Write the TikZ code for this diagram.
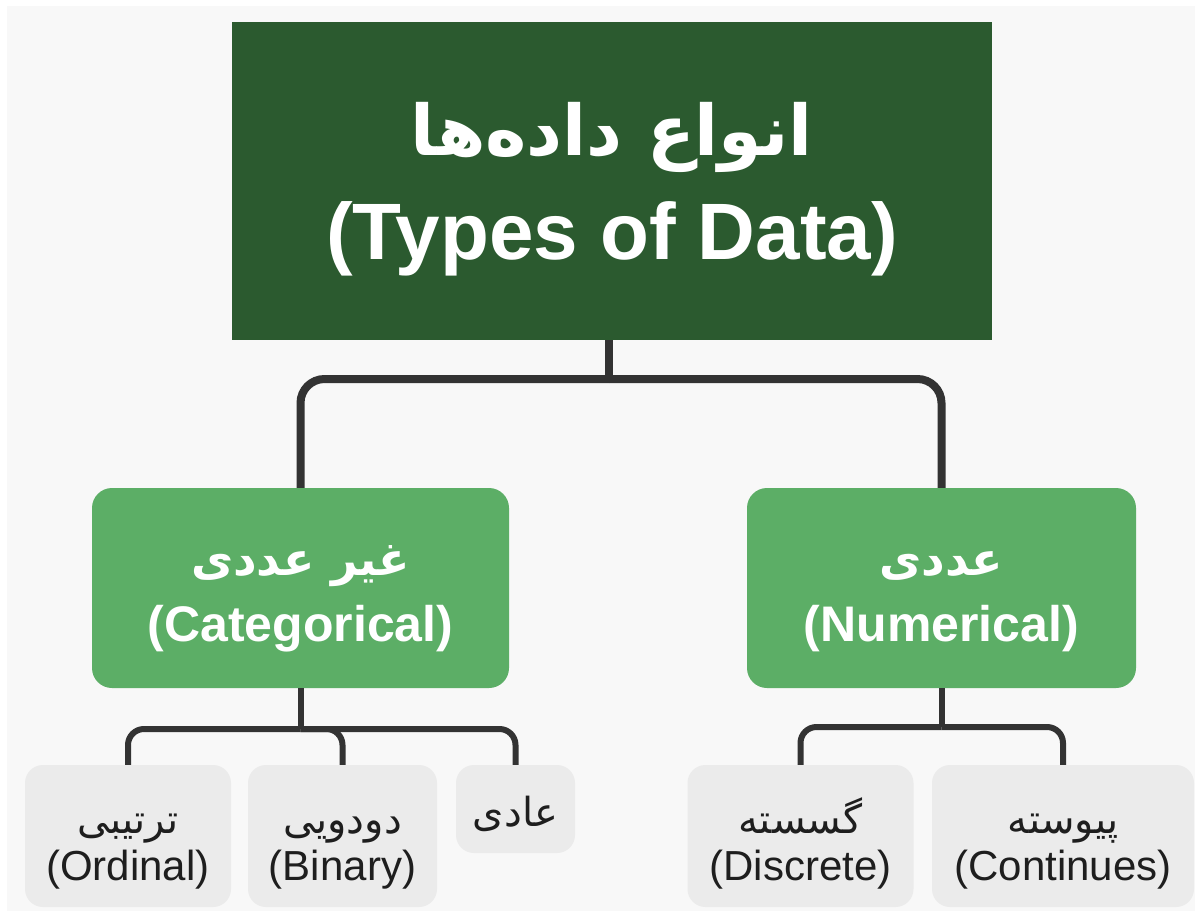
\documentclass[tikz,border=0pt]{standalone}
\usepackage{fontspec}
\setmainfont{Liberation Sans}
\newfontfamily\fa[Script=Arabic]{DejaVu Sans}
\TeXXeTstate=1
\definecolor{bgc}{HTML}{F8F8F8}
\definecolor{dkgreen}{HTML}{2B5A2F}
\definecolor{mdgreen}{HTML}{5CAE66}
\definecolor{leaf}{HTML}{EBEBEB}
\definecolor{linec}{HTML}{333333}
\definecolor{txt}{HTML}{1E1E1E}
\tikzset{
  topbox/.style={fill=dkgreen, minimum width=760pt, minimum height=318pt, inner sep=0pt},
  midbox/.style={fill=mdgreen, rounded corners=20pt, minimum height=200pt, inner sep=0pt},
  leafbox/.style={fill=leaf, rounded corners=18pt, inner sep=0pt},
  toptext/.style={inner sep=0pt, text=white, align=center, font=\bfseries\fontsize{80pt}{104pt}\selectfont},
  midtext/.style={inner sep=0pt, text=white, align=center, font=\bfseries\fontsize{50pt}{66pt}\selectfont},
  leaftext/.style={inner sep=0pt, text=txt, align=center, font=\fontsize{42pt}{47pt}\selectfont},
  bigconn/.style={draw=linec, line width=8pt, rounded corners=24pt},
  smallconn/.style={draw=linec, line width=6pt, rounded corners=16pt},
}
\newcommand{\fsz}[1]{\fontsize{#1}{#1}\selectfont\fa}
\newcommand{\mstrut}{\rule{0pt}{50pt}}
\newcommand{\lstrut}{\rule{0pt}{42pt}}
\begin{document}
\begin{tikzpicture}[x=1pt,y=-1pt]
\useasboundingbox (0,0) rectangle (1202,919);
\fill[white] (0,0) rectangle (1202,919);
\fill[bgc] (7,6) rectangle (1195,911);

% boxes
\node[topbox] (top) at (612,181) {};
\node[midbox, minimum width=417pt] (catg) at (300.5,588) {};
\node[midbox, minimum width=389pt] (num) at (941.5,588) {};
\node[leafbox, minimum width=206pt, minimum height=142pt] (ord) at (128,836) {};
\node[leafbox, minimum width=189pt, minimum height=142pt] (bin) at (342.5,836) {};
\node[leafbox, minimum width=119pt, minimum height=88pt] (reg) at (515.5,809) {};
\node[leafbox, minimum width=226pt, minimum height=142pt] (disc) at (800.5,836) {};
\node[leafbox, minimum width=262pt, minimum height=142pt] (cont) at (1063,836) {};

% texts
\node[toptext, yshift=-8pt] (topT) at (top.center) {%
  {\fsz{70pt}\beginR انواع داده^^^^200cها\endR}\\
  (Types of Data)};
\node[midtext, yshift=-1pt] (catgT) at (catg.center) {%
  \mstrut{\fsz{46pt}\beginR غیر عددی\endR}\\
  (Categorical)};
\node[midtext, yshift=-1pt] (numT) at (num.center) {%
  \mstrut{\fsz{46pt}\beginR عددی\endR}\\
  (Numerical)};
\node[leaftext, yshift=-4pt] (ordT) at (ord.center) {%
  \lstrut{\fsz{40pt}\beginR ترتیبی\endR}\\
  (Ordinal)};
\node[leaftext, yshift=-4pt] (binT) at (bin.center) {%
  \lstrut{\fsz{40pt}\beginR دودویی\endR}\\
  (Binary)};
\node[leaftext, yshift=-5pt] (regT) at (reg.center) {%
  {\fsz{40pt}\beginR عادی\endR}};
\node[leaftext, yshift=-4pt] (discT) at (disc.center) {%
  \lstrut{\fsz{40pt}\beginR گسسته\endR}\\
  (Discrete)};
\node[leaftext, yshift=-4pt] (contT) at (cont.center) {%
  \lstrut{\fsz{40pt}\beginR پیوسته\endR}\\
  (Continues)};

% connectors
\coordinate (j0) at (609,379);
\coordinate (j1) at (300.5,729);
\coordinate (j2) at (941.5,727);
\draw[bigconn] (top.south -| j0) -- (j0);
\draw[bigconn] (j0) -- (catg.north |- j0) -- (catg.north);
\draw[bigconn] (j0) -- (num.north |- j0) -- (num.north);

\draw[smallconn] (catg.south) -- (j1);
\draw[smallconn] (j1) -- (ord.north |- j1) -- (ord.north);
\draw[smallconn] (j1) -- (bin.north |- j1) -- (bin.north);
\draw[smallconn] (j1) -- (reg.north |- j1) -- (reg.north);

\draw[smallconn] (num.south) -- (j2);
\draw[smallconn] (j2) -- (disc.north |- j2) -- (disc.north);
\draw[smallconn] (j2) -- (cont.north |- j2) -- (cont.north);
\end{tikzpicture}
\end{document}
